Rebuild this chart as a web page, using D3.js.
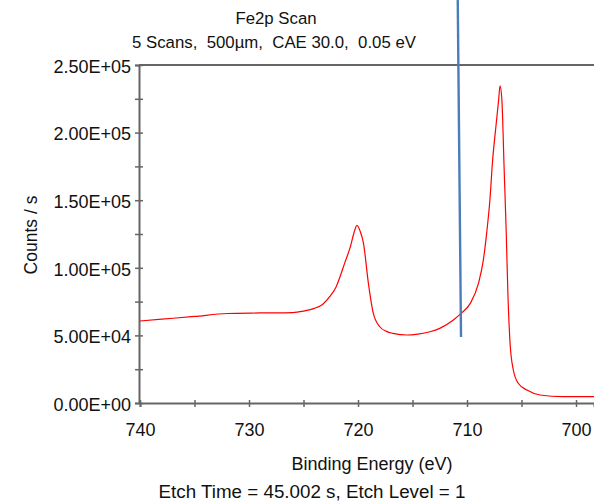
<!DOCTYPE html>
<html>
<head>
<meta charset="utf-8">
<script src="https://cdn.jsdelivr.net/npm/d3@7"></script>
<style>
  body { margin:0; background:#fff; }
  text { font-family: "Liberation Sans", Arial, sans-serif; fill:#111; }
</style>
</head>
<body>
<div class="canvas"></div>
<script>
// binding energy (eV) and counts/s
const energy = [740, 738, 735, 732, 729, 726, 725, 724, 723.2, 722.6, 722, 721.65, 721.2, 720.7, 720.4, 720.1, 719.8, 719.5, 719.05, 718.6, 718, 717.4, 716.8, 715.5, 714.5, 713.4, 712.5, 711.25, 710.55, 709.7, 708.95, 708.5, 708.2, 707.9, 707.65, 707.35, 707.1, 706.97, 706.8, 706.6, 706.4, 706.25, 706.05, 705.75, 705.3, 704.5, 703.3, 701.2, 698.3]
const counts = [60650, 62000, 64000, 66200, 66600, 66900, 68000, 70000, 73200, 78600, 86000, 93400, 104000, 115600, 125000, 131400, 127000, 118300, 88700, 66500, 56400, 53000, 51500, 50300, 51000, 52700, 55200, 61400, 66300, 73700, 88500, 105800, 125500, 150100, 179700, 204300, 224100, 234500, 224100, 174800, 125500, 81100, 44200, 24400, 14600, 9600, 5900, 4700, 4700]

const xTicks = d3.range(740, 699, -5)
const yTicks = d3.range(0, 250001, 25000)

// blue marker line (energy, counts at both ends)
const markerE = [710.85, 710.55]
const markerC = [298000, 48800]

const dims = {width:594, height:502}
const plot = {left:140, top:65, right:594, bottom:403}

const svg = d3.select('.canvas')
    .append('svg')
    .attr('width', dims.width)
    .attr('height', dims.height)

const x = d3.scaleLinear().domain([740, 698.35]).range([plot.left, plot.right])
const y = d3.scaleLinear().domain([0, 250000]).range([plot.bottom, plot.top])

const fmtE = v => {
    if (v === 0) return '0.00E+00'
    const e = Math.floor(Math.log10(v))
    return (v / Math.pow(10, e)).toFixed(2) + 'E+' + String(e).padStart(2, '0')
}

const axisCol = '#666'
const font = '"Liberation Sans", Arial, sans-serif'

// top border
svg.append('line')
    .attr('x1', plot.left - 1).attr('x2', plot.right)
    .attr('y1', plot.top).attr('y2', plot.top)
    .attr('stroke', axisCol).attr('stroke-width', 2)

const xAxis = svg.append('g')
    .attr('transform', `translate(0,${plot.bottom})`)
    .call(d3.axisBottom(x).tickValues(xTicks).tickSizeOuter(0).tickSize(4)
        .tickFormat(d => d % 10 === 0 ? d : ''))
xAxis.select('.domain').attr('stroke', axisCol).attr('stroke-width', 2)
xAxis.selectAll('.tick line').attr('y1', -3).attr('stroke', axisCol).attr('stroke-width', 1.5)
xAxis.selectAll('.tick text').attr('y', 20).attr('font-size', 18)
    .attr('font-family', font).attr('fill', '#111')

const yAxis = svg.append('g')
    .attr('transform', `translate(${plot.left - 1},0)`)
    .call(d3.axisLeft(y).tickValues(yTicks).tickSizeOuter(0).tickSize(4).tickPadding(4)
        .tickFormat(d => d % 50000 === 0 ? fmtE(d) : ''))
yAxis.select('.domain').attr('stroke', axisCol).attr('stroke-width', 2)
yAxis.selectAll('.tick line').attr('x1', 4).attr('stroke', axisCol).attr('stroke-width', 1.5)
yAxis.selectAll('.tick text').attr('font-size', 18).attr('dy', '0.4em')
    .attr('font-family', font).attr('fill', '#111')

// spectrum
const line = d3.line()
    .x(d => x(d[0]))
    .y(d => y(d[1]))
    .curve(d3.curveMonotoneX)

svg.append('path')
    .datum(d3.zip(energy, counts))
    .attr('d', line)
    .attr('fill', 'none')
    .attr('stroke', '#ff0000')
    .attr('stroke-width', 1.2)

// marker
svg.append('line')
    .attr('x1', x(markerE[0])).attr('y1', y(markerC[0]))
    .attr('x2', x(markerE[1])).attr('y2', y(markerC[1]))
    .attr('stroke', '#4a7ebb').attr('stroke-width', 2.4)

// texts
svg.append('text').attr('x', 276).attr('y', 24).attr('text-anchor', 'middle')
    .attr('font-size', 16.8).text('Fe2p Scan')
svg.append('text').attr('x', 274).attr('y', 48).attr('text-anchor', 'middle')
    .attr('font-size', 16.8)
    .style('white-space', 'pre')
    .text('5 Scans,  500µm,  CAE 30.0,  0.05 eV')
svg.append('text').attr('x', 372).attr('y', 470).attr('text-anchor', 'middle')
    .attr('font-size', 18).text('Binding Energy (eV)')
svg.append('text').attr('x', 312).attr('y', 498).attr('text-anchor', 'middle')
    .attr('font-size', 18.8).text('Etch Time = 45.002 s, Etch Level = 1')
svg.append('text')
    .attr('transform', 'translate(37,235) rotate(-90)')
    .attr('text-anchor', 'middle')
    .attr('font-size', 17.5).text('Counts / s')
</script>
</body>
</html>
